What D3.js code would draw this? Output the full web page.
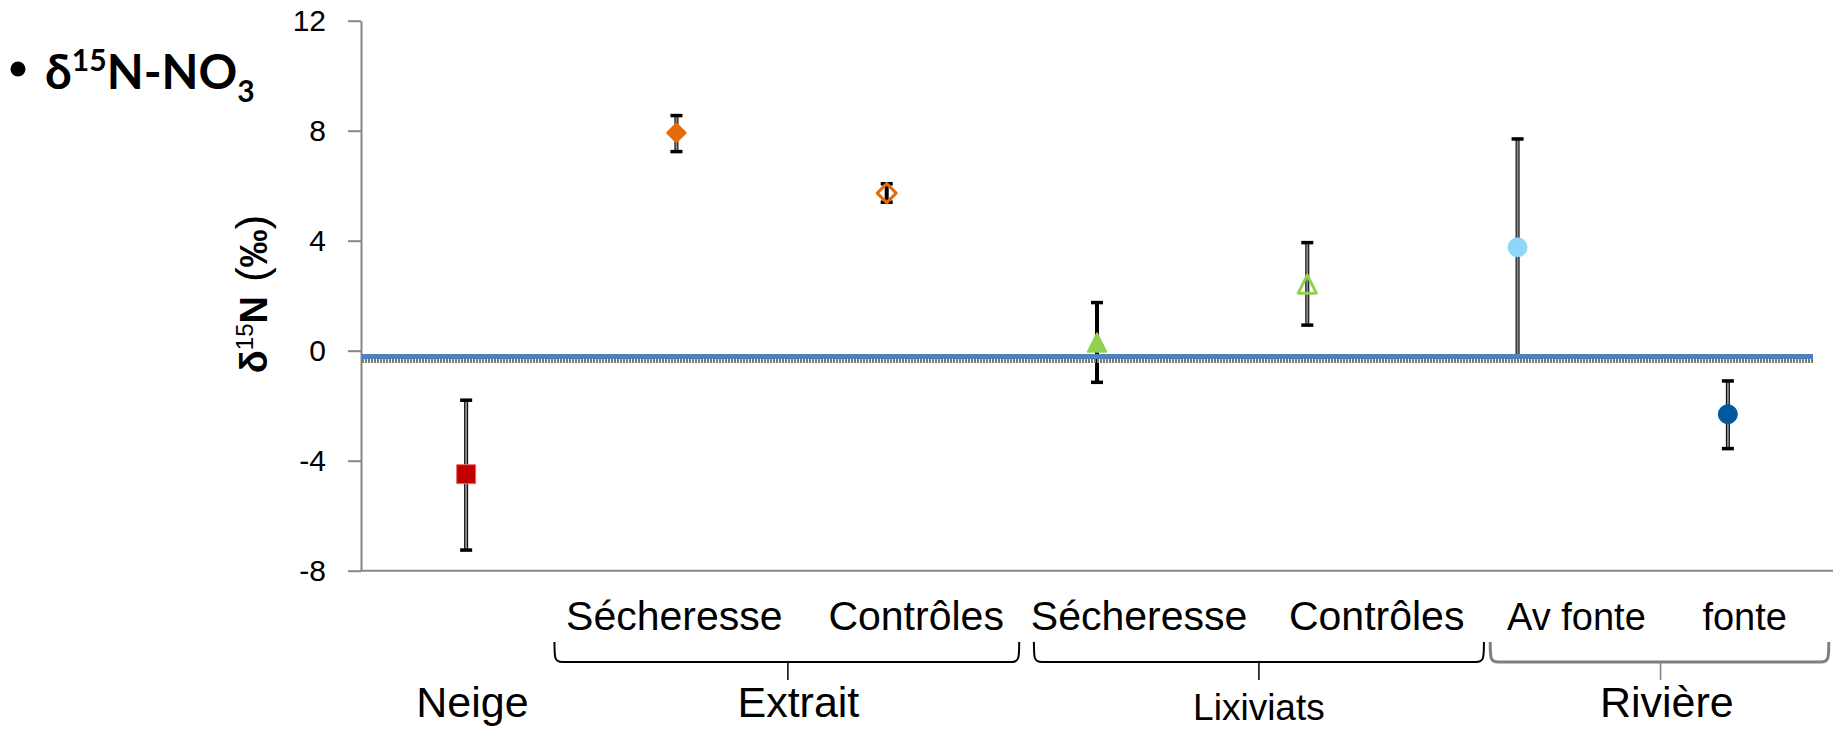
<!DOCTYPE html>
<html>
<head>
<meta charset="utf-8">
<script src="https://cdn.jsdelivr.net/npm/d3@7"></script>
<style>
  html, body { margin: 0; padding: 0; background: #fff; }
  svg { display: block; }
</style>
</head>
<body>
<script>
// ---------------- DATA ----------------
const categories = ["Neige", "Extrait Sécheresse", "Extrait Contrôles", "Lixiviats Sécheresse",
                    "Lixiviats Contrôles", "Rivière Av fonte", "Rivière fonte"];
const means   = [-4.49, 7.92, 5.73, 0.30, 2.42, 3.76, -2.31];
const errLow  = [-7.25, 7.24, 5.40, -1.15, 0.93, -0.20, -3.56];
const errHigh = [-1.80, 8.55, 6.07, 1.75, 3.93, 7.70, -1.10];
const yTicks = [12, 8, 4, 0, -4, -8];
const subLabels = ["Sécheresse", "Contrôles", "Sécheresse", "Contrôles", "Av fonte", "fonte"];
const groupNames = ["Neige", "Extrait", "Lixiviats", "Rivière"];
const refLineSolid = [-0.21];
const refLineDotted = [-0.37];

// ---------------- LAYOUT / STYLE ----------------
const W = 1847, H = 730;
const markerStyle = [
  {shape: "square",   fill: "#C00000", stroke: "#E07070", sw: 1,   size: 19},
  {shape: "diamond",  fill: "#E46C0A", stroke: "#E46C0A", sw: 1.5, size: 19},
  {shape: "diamond",  fill: "none",    stroke: "#E46C0A", sw: 3,   size: 19},
  {shape: "triangle", fill: "#92D050", stroke: "#92D050", sw: 1.5, size: 19},
  {shape: "triangle", fill: "none",    stroke: "#92D050", sw: 3,   size: 18},
  {shape: "circle",   fill: "#8DD8F8", stroke: "#8DD8F8", sw: 1,   size: 19},
  {shape: "circle",   fill: "#00589F", stroke: "#00589F", sw: 1,   size: 19}
];
const greyCore = [true, true, false, false, true, true, true];
// annotation positions expressed in category-slot units (0..7)
const subLabelSlot = [1.49, 2.64, 3.70, 4.83, 5.78, 6.58];
const subLabelSize = [41, 41, 41, 41, 38, 38];
const groupSlot = [0.53, 2.08, 4.27, 6.21];
const groupSize = [43, 43, 37, 43];
const groupBase = [717, 717, 720, 717];
const brackets = [ // [startSlot, endSlot, centerSlot, colour, width]
  [0.92, 3.13, 2.03, "#000", 2],
  [3.20, 5.34, 4.27, "#000", 2],
  [5.37, 6.98, 6.18, "#7F7F7F", 3]
];

const svg = d3.select("body").append("svg").attr("width", W).attr("height", H);

const x = d3.scaleBand().domain(categories).range([361, 1833]).padding(0);
const y = d3.scaleLinear().domain([-8, 12]).range([570.7, 20.7]);
const slot = d3.scaleLinear().domain([0, 7]).range([361, 1833]);
const cx = c => x(c) + x.bandwidth() / 2;

// ---------------- TITLE ----------------
svg.append("circle").attr("cx", 18).attr("cy", 69).attr("r", 7.5).attr("fill", "#000");
const title = svg.append("text")
  .attr("x", 45).attr("y", 89)
  .attr("font-family", "Lato, 'Open Sans', sans-serif")
  .attr("font-weight", 700)
  .attr("font-size", 48)
  .attr("fill", "#000");
title.append("tspan").text("δ");
title.append("tspan").attr("font-size", 30).attr("dy", -18).text("15");
title.append("tspan").attr("dy", 18).text("N-NO");
title.append("tspan").attr("font-size", 30).attr("dy", 13).text("3");

// ---------------- AXES ----------------
const yAxis = d3.axisLeft(y).tickValues(yTicks).tickSize(13).tickSizeOuter(0).tickPadding(22)
  .tickFormat(d => String(d));
const gy = svg.append("g").attr("transform", "translate(361,0)").call(yAxis);
gy.select(".domain").attr("stroke", "#868686").attr("stroke-width", 2);
gy.selectAll(".tick line").attr("stroke", "#868686").attr("stroke-width", 2);
gy.selectAll(".tick text")
  .attr("font-family", "'Liberation Sans', Arial, sans-serif")
  .attr("font-size", 30).attr("fill", "#000");

svg.append("line")
  .attr("x1", 361).attr("x2", 1833)
  .attr("y1", y(-8)).attr("y2", y(-8))
  .attr("stroke", "#868686").attr("stroke-width", 2);

// y-axis title
const yt = svg.append("text")
  .attr("transform", `translate(267,${294}) rotate(-90)`)
  .attr("text-anchor", "middle")
  .attr("font-family", "'Liberation Sans', Arial, sans-serif")
  .attr("fill", "#000");
yt.append("tspan").attr("font-size", 38).attr("font-weight", 700).text("δ");
yt.append("tspan").attr("font-size", 24).attr("dy", -14).text("15");
yt.append("tspan").attr("font-size", 38).attr("dy", 14).attr("font-weight", 700).text("N");
yt.append("tspan").attr("font-size", 44).attr("font-weight", 400).attr("dx", 14).text("(");
yt.append("tspan").attr("font-size", 38).attr("font-weight", 700).text("‰");
yt.append("tspan").attr("font-size", 44).attr("font-weight", 400).text(")");

// ---------------- ERROR BARS ----------------
const eb = svg.append("g");
categories.forEach((c, i) => {
  const xc = cx(c);
  eb.append("line").attr("x1", xc).attr("x2", xc)
    .attr("y1", y(errHigh[i])).attr("y2", y(errLow[i]))
    .attr("stroke", "#000").attr("stroke-width", 4);
  if (greyCore[i]) {
    eb.append("line").attr("x1", xc).attr("x2", xc)
      .attr("y1", y(errHigh[i])).attr("y2", y(errLow[i]))
      .attr("stroke", "#8a8a8a").attr("stroke-width", 2);
  }
  [errHigh[i], errLow[i]].forEach(v => {
    eb.append("line").attr("x1", xc - 6).attr("x2", xc + 6)
      .attr("y1", y(v)).attr("y2", y(v))
      .attr("stroke", "#000").attr("stroke-width", 3.5);
  });
});

// ---------------- REFERENCE LINES ----------------
refLineDotted.forEach(v => {
  svg.append("line").attr("x1", 362).attr("x2", 1813)
    .attr("y1", y(v)).attr("y2", y(v))
    .attr("stroke", "#7a7a7a").attr("stroke-width", 4)
    .attr("stroke-dasharray", "2 1");
});
refLineSolid.forEach(v => {
  svg.append("line").attr("x1", 362).attr("x2", 1813)
    .attr("y1", y(v)).attr("y2", y(v))
    .attr("stroke", "#4F81BD").attr("stroke-width", 5);
});

// ---------------- MARKERS ----------------
function markerPath(shape, s) {
  const h = s / 2;
  if (shape === "square") return `M${-h},${-h}H${h}V${h}H${-h}Z`;
  if (shape === "diamond") return `M0,${-h}L${h},0L0,${h}L${-h},0Z`;
  if (shape === "triangle") return `M0,${-h}L${h},${h}L${-h},${h}Z`;
  return d3.arc()({innerRadius: 0, outerRadius: h, startAngle: 0, endAngle: 2 * Math.PI});
}
categories.forEach((c, i) => {
  const st = markerStyle[i];
  svg.append("path")
    .attr("d", markerPath(st.shape, st.size))
    .attr("transform", `translate(${cx(c)},${y(means[i])})`)
    .attr("fill", st.fill).attr("stroke", st.stroke).attr("stroke-width", st.sw)
    .attr("stroke-linejoin", "round");
});

// ---------------- CATEGORY LABELS ----------------
const fontAx = "'Liberation Sans', Arial, sans-serif";
subLabels.forEach((t, i) => {
  svg.append("text").attr("x", slot(subLabelSlot[i])).attr("y", 630)
    .attr("text-anchor", "middle").attr("font-family", fontAx)
    .attr("font-size", subLabelSize[i]).attr("fill", "#000").text(t);
});
brackets.forEach(b => {
  const x0 = slot(b[0]), x1 = slot(b[1]), xc = slot(b[2]);
  const top = 642, bot = 662;
  svg.append("path")
    .attr("d", `M${x0},${top} C${x0},${bot - 4} ${x0},${bot} ${x0 + 8},${bot} H${x1 - 8} C${x1},${bot} ${x1},${bot - 4} ${x1},${top}`)
    .attr("fill", "none").attr("stroke", b[3]).attr("stroke-width", b[4]);
  svg.append("line").attr("x1", xc).attr("x2", xc).attr("y1", bot).attr("y2", 680)
    .attr("stroke", b[3]).attr("stroke-width", 1.5);
});
groupNames.forEach((t, i) => {
  svg.append("text").attr("x", slot(groupSlot[i])).attr("y", groupBase[i])
    .attr("text-anchor", "middle").attr("font-family", fontAx)
    .attr("font-size", groupSize[i]).attr("fill", "#000").text(t);
});
</script>
</body>
</html>
